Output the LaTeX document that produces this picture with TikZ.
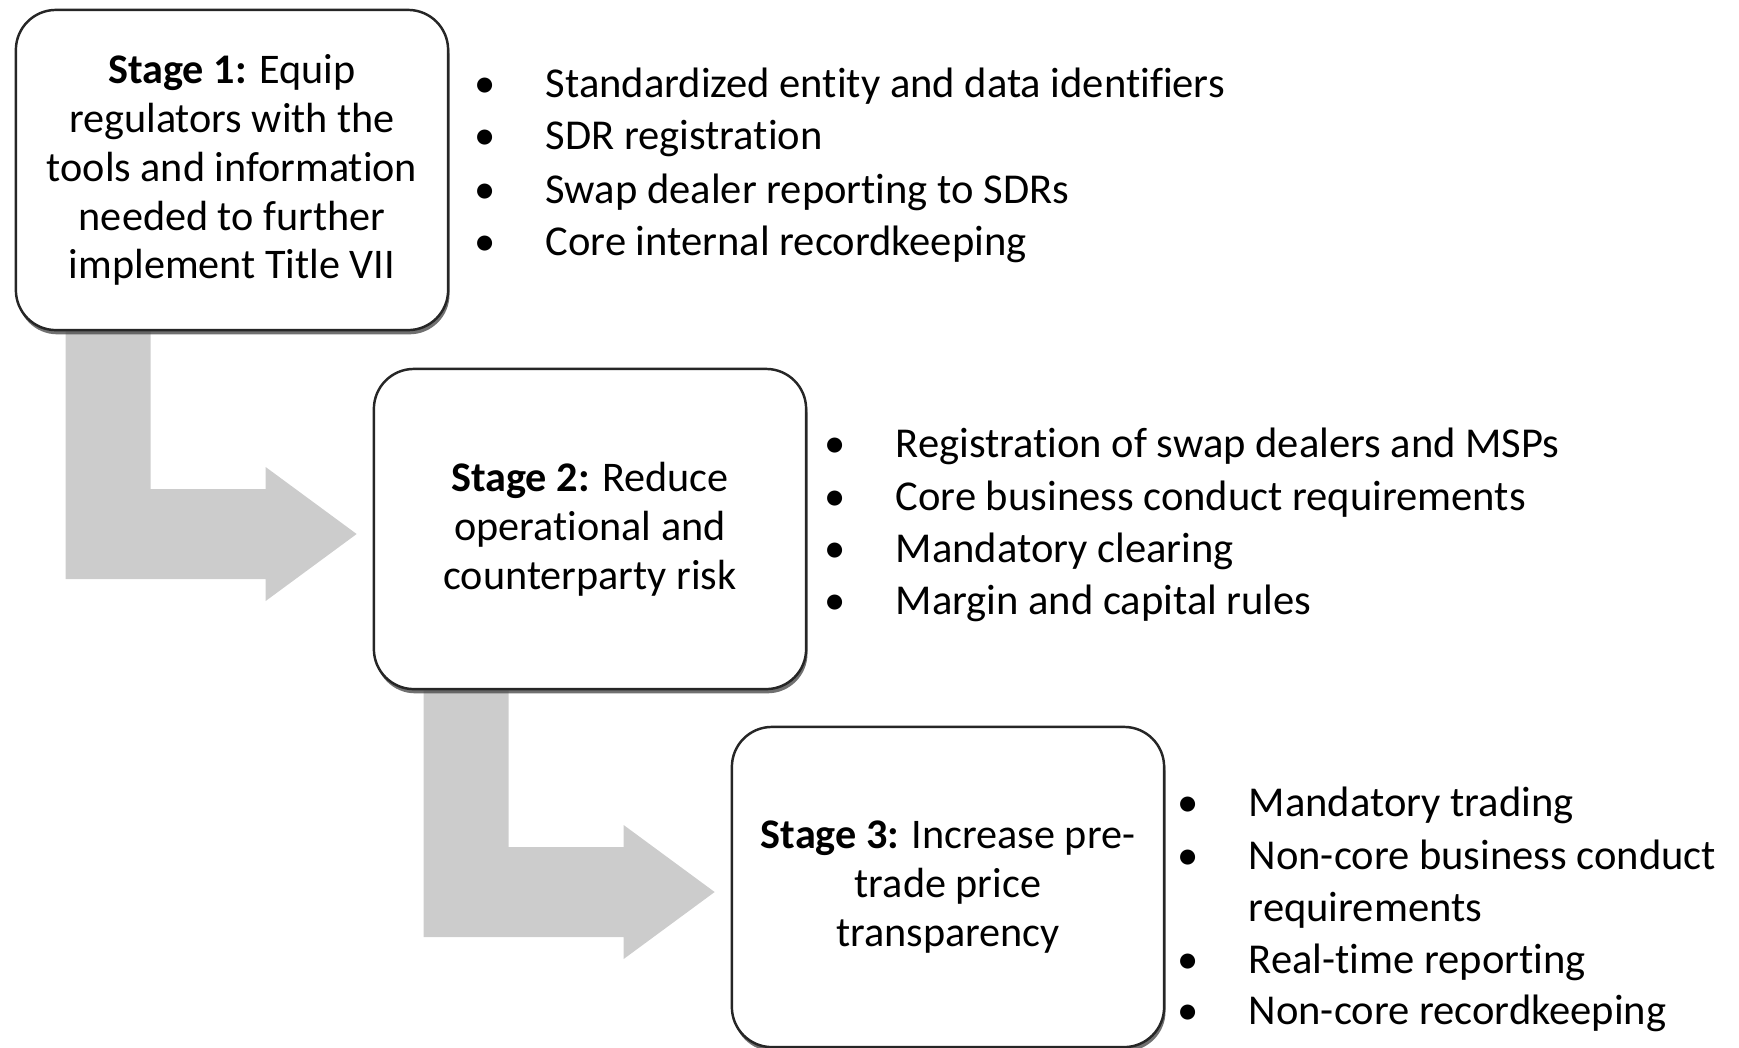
\documentclass[tikz,border=0pt]{standalone}
\usepackage{fontspec}
\setmainfont{Carlito}[Ligatures=NoCommon]
\usetikzlibrary{calc,shadows,backgrounds}

\definecolor{arrowgray}{RGB}{204,204,204}
\newcommand{\bul}{\makebox[0.71cm][l]{\textbullet}}

% fat grey elbow arrow from the foot of one stage box to the side of the next
\newcommand{\stagearrow}[2]{%
  \fill[bigarrow] ($(#1.south west)+(51,0)$) -- ++(85,0)
    |- ($(#2.west)+(-107,-40)$) -- ++(0,-22) -- ($(#2.west)+(-16,5)$)
    -- ($(#2.west)+(-107,72)$) -- ++(0,-22)
    -| ($(#1.south west)+(51,0)$) -- cycle;
}

\begin{document}
\begin{tikzpicture}[x=0.01cm,y=-0.01cm,
    stage/.style={draw=black!85,line width=0.7pt,rounded corners=0.4cm,fill=white,
      minimum width=4.32cm,minimum height=3.2cm,align=center,
      font=\fontsize{12}{13.9}\selectfont,
      drop shadow={shadow xshift=0.4pt,shadow yshift=-1.2pt,fill=black!70,opacity=0.8}},
    item/.style={anchor=west,inner sep=0pt,align=left,font=\fontsize{12.1}{14.75}\selectfont},
    bigarrow/.style={fill=arrowgray}]
    \useasboundingbox (0,0) rectangle (1739,1047);

    \node[stage] (s1) at (232,170) {\textbf{Stage 1:} Equip\\regulators with the\\tools and information\\needed to further\\implement Title VII};
    \node[stage] (s2) at (590,529) {\textbf{Stage 2:} Reduce\\operational and\\counterparty risk};
    \node[stage] (s3) at (948,887) {\textbf{Stage 3:} Increase pre-\\trade price\\transparency};

    \node[item] (i11) at (474,86) {\bul Standardized entity and data identifiers};
    \node[item] (i12) at (474,139) {\bul SDR registration};
    \node[item] (i13) at (474,192) {\bul Swap dealer reporting to SDRs};
    \node[item] (i14) at (474,244) {\bul Core internal recordkeeping};

    \node[item] (i21) at (824,446) {\bul Registration of swap dealers and MSPs};
    \node[item] (i22) at (824,499) {\bul Core business conduct requirements};
    \node[item] (i23) at (824,551) {\bul Mandatory clearing};
    \node[item] (i24) at (824,603) {\bul Margin and capital rules};

    \node[item] (i31) at (1177,805) {\bul Mandatory trading};
    \node[item] (i32) at (1177,884) {\bul Non-core business conduct\\\hspace*{0.71cm}requirements};
    \node[item] (i33) at (1177,962) {\bul Real-time reporting};
    \node[item] (i34) at (1177,1013) {\bul Non-core recordkeeping};

    \begin{scope}[on background layer]
        \stagearrow{s1}{s2}
        \stagearrow{s2}{s3}
    \end{scope}
\end{tikzpicture}
\end{document}
